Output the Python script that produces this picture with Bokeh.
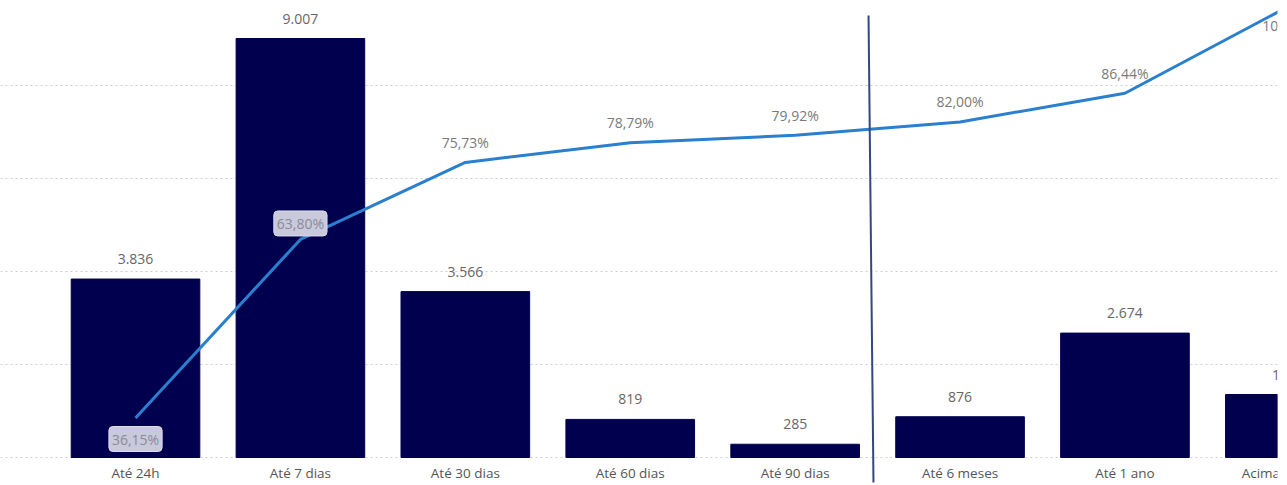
from bokeh.plotting import figure
from bokeh.models import (ColumnDataSource, Range1d, FixedTicker,
                          LabelSet, Label, Arrow)
from bokeh.core.properties import value
from bokeh.embed import file_html
from bokeh.resources import INLINE

# ---- data ----
categories = ["Até 24h", "Até 7 dias", "Até 30 dias", "Até 60 dias",
              "Até 90 dias", "Até 6 meses", "Até 1 ano", "Acima de 1 ano"]
counts = [3836, 9007, 3566, 819, 285, 876, 2674, 1354]
cum_pct = [36.15, 63.80, 75.73, 78.79, 79.92, 82.00, 86.44, 100.00]
grid_ticks = [0, 2000, 4000, 6000, 8000]
divider_after = 4  # vertical separator between "Até 90 dias" and "Até 6 meses"

FONT = "Open Sans"
BAR_COLOR = "#00004f"
LINE_COLOR = "#2a7fcf"

def fmt_int(v):
    return f"{v:,}".replace(",", ".")

def fmt_pct(v):
    return f"{v:.2f}".replace(".", ",") + "%"

xs = list(range(len(categories)))

# frame covers the full height; the category labels sit below the value 0
p = figure(width=1287, height=485, output_backend="svg", toolbar_location=None,
           x_range=Range1d(-0.8187, 6.925), y_range=Range1d(-602, 9824),
           min_border_left=0, min_border_right=10, min_border_top=0,
           min_border_bottom=0, outline_line_color=None,
           x_axis_location=None, y_axis_location=None,
           background_fill_color="white", border_fill_color="white")
p.extra_y_ranges = {"pct": Range1d(25.7, 100.8)}

# bars
src = ColumnDataSource(dict(x=xs, top=counts, base=[0] * len(xs),
                            lab=[fmt_int(v) for v in counts], cat=categories))
p.vbar(x="x", top="top", bottom="base", width=0.78, source=src, color=BAR_COLOR)

# line
lsrc = ColumnDataSource(dict(x=xs, y=cum_pct))
p.line(x="x", y="y", source=lsrc, y_range_name="pct", line_color=LINE_COLOR,
       line_width=3)

# bar labels
p.add_layout(LabelSet(x="x", y="top", text="lab", source=src, y_offset=20,
                      text_align="center", text_baseline="middle",
                      text_font=value(FONT), text_font_size="14px",
                      text_color="#666666"))

# category labels (below baseline)
p.add_layout(LabelSet(x="x", y="base", text="cat", source=src, y_offset=-16,
                      text_align="center", text_baseline="middle",
                      text_font=value(FONT), text_font_size="13.5px",
                      text_color="#555555"))

# percent labels: above point for most
above_idx = [2, 3, 4, 5, 6]
a_src = ColumnDataSource(dict(x=[xs[i] for i in above_idx],
                              y=[cum_pct[i] for i in above_idx],
                              lab=[fmt_pct(cum_pct[i]) for i in above_idx]))
p.add_layout(LabelSet(x="x", y="y", text="lab", source=a_src, y_range_name="pct",
                      y_offset=20, text_align="center", text_baseline="middle",
                      text_font=value(FONT), text_font_size="14px",
                      text_color="#7a7a7a"))

# boxed labels (over dark bars)
for i, off in [(0, -21), (1, 16)]:
    p.add_layout(Label(x=xs[i], y=cum_pct[i], text=fmt_pct(cum_pct[i]),
                       y_range_name="pct", y_offset=off,
                       text_align="center", text_baseline="middle",
                       text_font=FONT, text_font_size="14px", text_color="#8a8a9a",
                       background_fill_color="#c9c9dc", border_line_color="#dcdcea",
                       padding=3, border_radius=4))
# last label (below point)
p.add_layout(Label(x=xs[7], y=cum_pct[7], text=fmt_pct(cum_pct[7]),
                   y_range_name="pct", y_offset=-20,
                   text_align="center", text_baseline="middle",
                   text_font=FONT, text_font_size="14px", text_color="#7a7a7a"))

# vertical separator
p.add_layout(Arrow(x_start=divider_after + 0.445, y_start=9501,
                   x_end=divider_after + 0.475, y_end=-537, end=None,
                   line_color="#34477f", line_width=2, level="overlay"))

# grid
p.xgrid.visible = False
p.ygrid.ticker = FixedTicker(ticks=grid_ticks)
p.ygrid.grid_line_color = "#cfcfcf"
p.ygrid.grid_line_dash = "2 3"
p.ygrid.grid_line_width = 1

open("out.html", "w").write(file_html(p, INLINE))
